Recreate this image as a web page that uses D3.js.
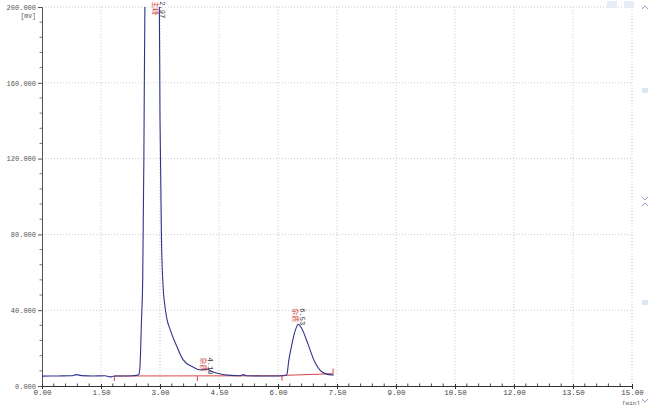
<!DOCTYPE html>
<html><head><meta charset="utf-8">
<script src="https://cdn.jsdelivr.net/npm/d3@7"></script>
<style>body{margin:0;background:#fff}svg{display:block}</style>
</head><body>
<svg id="c" width="650" height="405"></svg>
<script>
// ---- data ----
const xTicks = [0, 1.5, 3, 4.5, 6, 7.5, 9, 10.5, 12, 13.5, 15];
const xTickLabels = ["0.00","1.50","3.00","4.50","6.00","7.50","9.00","10.50","12.00","13.50","15.00"];
const yTicks = [0, 40, 80, 120, 160, 200];
const yTickLabels = ["0.000","40.000","80.000","120.000","160.000","200.000"];
const traceTime = [0,0.4,0.75,0.88,1.0,1.3,1.6,1.73,1.84,2.1,2.3,2.4,2.46,2.49,2.53,2.56,2.59,2.62,2.8,2.98,3.0,3.04,3.08,3.12,3.17,3.26,3.43,3.59,3.84,4.0,4.12,4.19,4.3,4.53,4.8,5.05,5.12,5.2,5.6,6.0,6.18,6.23,6.27,6.35,6.45,6.52,6.6,6.77,6.93,7.12,7.3,7.42];
const traceValue = [5.2,5.3,5.4,6.0,5.5,5.3,5.4,4.8,5.3,5.3,5.4,5.6,6.0,10,35,56,120,210,230,210,141,75,52,43,36,29.6,20.8,13.8,10,8.6,8.6,8.9,7.8,6.3,5.6,5.4,6.0,5.4,5.3,5.3,5.5,6.5,12.9,21.7,30,32.6,30.5,21.7,12.9,7.4,6.0,5.8];
const baseSegs = [[[1.84,5.3],[6.15,5.4]],[[6.15,5.6],[7.40,6.5]]];
const eventMarks = [[1.84,5.3,-1],[3.95,5.3,-1],[6.10,5.4,-1],[7.40,6.5,1]];
const peakTimes = [2.97, 4.19, 6.53];
const peakLabels = ["2.97","4.19","6.53"];
const peakNames = ["主峰","杂质","杂质"];
const peakLabelValue = [203, 15, 41];

// ---- layout ----
const svg = d3.select("#c");
const L = 42, R = 632, T = 7, B = 386;
const x = d3.scaleLinear().domain([0,15]).range([L,R]);
const y = d3.scaleLinear().domain([0,200]).range([B,T]);
const font = "'Liberation Mono', monospace";

svg.append("defs").append("clipPath").attr("id","clip")
  .append("rect").attr("x",L).attr("y",T).attr("width",R-L).attr("height",B-T);

// gridlines
svg.append("g").selectAll("line").data(xTicks.slice(1)).join("line")
  .attr("x1",d=>x(d)).attr("x2",d=>x(d)).attr("y1",T).attr("y2",B)
  .attr("stroke","#c8c8c8").attr("stroke-width",1).attr("stroke-dasharray","1,2");
svg.append("g").selectAll("line").data(yTicks.slice(1)).join("line")
  .attr("x1",L).attr("x2",R).attr("y1",d=>y(d)).attr("y2",d=>y(d))
  .attr("stroke","#c8c8c8").attr("stroke-width",1).attr("stroke-dasharray","1,2");

// y axis
const yAxis = svg.append("g").attr("transform",`translate(${L},0)`)
  .call(d3.axisLeft(y).tickValues(yTicks).tickFormat((d,i)=>yTickLabels[i]).tickSize(4).tickPadding(2));
yAxis.select(".domain").attr("stroke","#555");
yAxis.selectAll(".tick line").attr("stroke","#555");
yAxis.selectAll("text").attr("font-family",font).attr("font-size","7px").attr("fill","#555");
svg.append("g").selectAll("line").data(d3.range(0,200,8).filter(v=>v%40!==0)).join("line")
  .attr("x1",L-2.5).attr("x2",L).attr("y1",d=>y(d)).attr("y2",d=>y(d)).attr("stroke","#777");

// x axis
const xAxis = svg.append("g").attr("transform",`translate(0,${B})`)
  .call(d3.axisBottom(x).tickValues(xTicks).tickFormat((d,i)=>xTickLabels[i]).tickSize(3).tickPadding(1));
xAxis.select(".domain").attr("stroke","#333");
xAxis.selectAll(".tick line").attr("stroke","#333").attr("y1",-2);
xAxis.selectAll("text").attr("font-family",font).attr("font-size","7.5px").attr("fill","#444");
svg.append("g").selectAll("line").data(d3.range(0.3,15,0.3).filter(v=>Math.abs(v/1.5-Math.round(v/1.5))>0.01)).join("line")
  .attr("x1",d=>x(d)).attr("x2",d=>x(d)).attr("y1",B-2.5).attr("y2",B).attr("stroke","#444");

// unit labels
svg.append("text").attr("x",36).attr("y",18).attr("text-anchor","end")
  .attr("font-family",font).attr("font-size","6.5px").attr("fill","#555").text("[mv]");
svg.append("text").attr("x",640).attr("y",404.5).attr("text-anchor","end")
  .attr("font-family",font).attr("font-size","6px").attr("fill","#555").text("[min]");

// red baseline
const lineGen = d3.line().x(d=>x(d[0])).y(d=>y(d[1]));
svg.append("g").selectAll("path").data(baseSegs).join("path")
  .attr("d",lineGen).attr("fill","none").attr("stroke","#d84848").attr("stroke-width",1);
svg.append("g").selectAll("line").data(eventMarks).join("line")
  .attr("x1",d=>x(d[0])).attr("x2",d=>x(d[0]))
  .attr("y1",d=>y(d[1])).attr("y2",d=>y(d[1])-d[2]*5)
  .attr("stroke","#d84848").attr("stroke-width",1);

// trace
const pts = traceTime.map((t,i)=>[t,traceValue[i]]);
svg.append("path").datum(pts).attr("clip-path","url(#clip)")
  .attr("d",d3.line().x(d=>x(d[0])).y(d=>y(d[1])).curve(d3.curveMonotoneX))
  .attr("fill","none").attr("stroke","#2e3488").attr("stroke-width",1.1);

// peak labels (rotated)
const pl = svg.append("g");
peakTimes.forEach((t,i)=>{
  const px = x(t), py = y(peakLabelValue[i]);
  pl.append("text").attr("transform",`translate(${px-6},${py}) rotate(90)`)
    .attr("font-family","'Noto Sans CJK SC', sans-serif").attr("font-size","7px")
    .attr("fill","#d04040").text(peakNames[i]);
  pl.append("text").attr("transform",`translate(${px+1},${py}) rotate(90)`)
    .attr("font-family",font).attr("font-size","7px").attr("fill","#333").text(peakLabels[i]);
});

// UI decorations (scroll arrows)
const deco = svg.append("g").attr("stroke","#8aa6d0").attr("fill","none").attr("stroke-width",1);
[[612,4],[629,4]].forEach(([cx,cy])=>{
  svg.append("rect").attr("x",cx-5).attr("y",cy-3).attr("width",10).attr("height",7).attr("fill","#e6edf7");
});
deco.append("path").attr("d","M610,4 l2,-2 l2,2 M627,2 l2,2 l2,-2");
deco.append("path").attr("d","M642,9 l3,-3 l3,3 M642,197 l3,3 l3,-3 M642,206 l3,-3 l3,3 M642,399 l3,3 l3,-3");
svg.append("rect").attr("x",642).attr("y",88).attr("width",6).attr("height",5).attr("fill","#dde6f3");
svg.append("rect").attr("x",642).attr("y",300).attr("width",6).attr("height",5).attr("fill","#dde6f3");
</script>
</body></html>
